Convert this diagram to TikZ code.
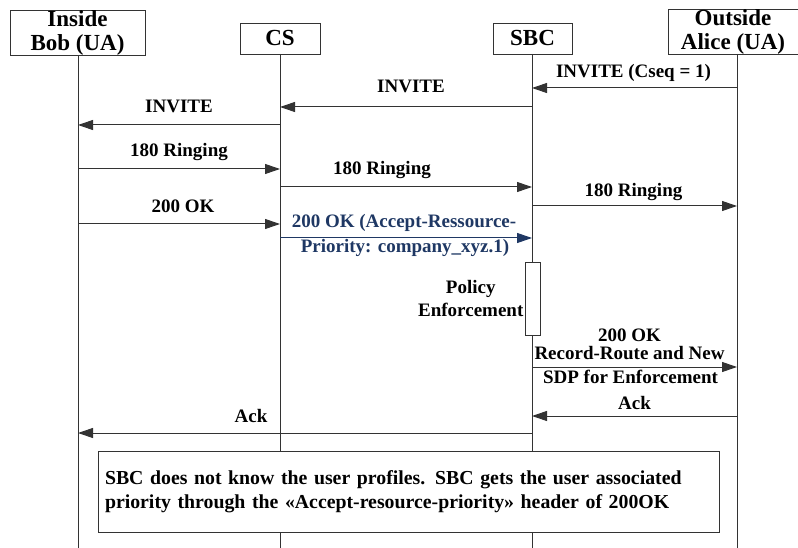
\documentclass[tikz,border=0pt]{standalone}
\usepackage{fontspec}
\setmainfont{Liberation Serif}
\usetikzlibrary{arrows.meta, positioning, calc}
\definecolor{okblue}{RGB}{31,56,100}
\definecolor{linegray}{RGB}{51,51,51}

\begin{document}
\begin{tikzpicture}[
		x=1pt, y=-1pt,
		actor/.style={draw=linegray, line width=0.9pt, inner sep=0pt, align=center, font=\fontsize{23}{24}\selectfont\bfseries},
		lifeline/.style={draw=linegray, line width=0.9pt},
		msg/.style={-{Triangle[length=15pt, width=10pt]}, draw=linegray, line width=1pt},
		lbl/.style={anchor=base, inner sep=0pt, font=\fontsize{19}{20}\selectfont\bfseries},
		multilbl/.style={inner sep=0pt, align=center, font=\fontsize{19}{18}\selectfont\bfseries},
		notebox/.style={draw=linegray, fill=white, line width=0.9pt, inner xsep=7pt, text width=607pt, align=left, minimum height=81pt, font=\fontsize{19.8}{24}\selectfont\bfseries}
		]
		\useasboundingbox (0,0) rectangle (798,548);
		
		% actors
		\node[actor, minimum width=135pt, minimum height=45pt] (bob) at (77.5,32.5) {Inside\\Bob (UA)};
		\node[actor, minimum width=80pt, minimum height=31pt] (cs) at (280,38.5) {CS};
		\node[actor, minimum width=79pt, minimum height=31pt] (sbc) at (532.5,38.5) {SBC};
		\node[actor, minimum width=130pt, minimum height=44pt] (alice) at (733,32) {Outside\\Alice (UA)};
		
		% lifelines
		\coordinate (bobl) at (78,55);
		\coordinate (csl) at (280,54);
		\coordinate (sbcl) at (532,54);
		\coordinate (alicel) at (737,54);
		\coordinate (bottom) at (0,548);
		\draw[lifeline] (bobl) -- (bobl |- bottom);
		\draw[lifeline] (csl) -- (csl |- bottom);
		\draw[lifeline] (sbcl) -- (sbcl |- bottom);
		\draw[lifeline] (alicel) -- (alicel |- bottom);
		
		% message rows
		\coordinate (r1) at (0,88);
		\coordinate (r2) at (0,107);
		\coordinate (r3) at (0,125);
		\coordinate (r4) at (0,169);
		\coordinate (r5) at (0,187);
		\coordinate (r6) at (0,206);
		\coordinate (r7) at (0,224);
		\coordinate (r8) at (0,238);
		\coordinate (r10) at (0,367);
		\coordinate (r11) at (0,416);
		\coordinate (r12) at (0,433);
		
		% INVITE
		\draw[msg] (alicel |- r1) -- node[lbl, yshift=10pt, xshift=-1pt] {INVITE (Cseq = 1)} (sbcl |- r1);
		\draw[msg] (sbcl |- r2) -- node[lbl, yshift=14pt, xshift=5pt] {INVITE} (csl |- r2);
		\draw[msg] (csl |- r3) -- node[lbl, yshift=12pt] {INVITE} (bobl |- r3);
		
		% 180 Ringing
		\draw[msg] (bobl |- r4) -- node[lbl, yshift=12pt] {180 Ringing} (csl |- r4);
		\draw[msg] (csl |- r5) -- node[lbl, yshift=12pt, xshift=-24pt] {180 Ringing} (sbcl |- r5);
		\draw[msg] (sbcl |- r6) -- node[lbl, yshift=9pt, xshift=-1pt] {180 Ringing} (alicel |- r6);
		
		% 200 OK
		\draw[msg] (bobl |- r7) -- node[lbl, yshift=11pt, xshift=4pt] {200 OK} (csl |- r7);
		\draw[msg, draw=okblue] (csl |- r8) -- node[lbl, text=okblue, yshift=10pt, xshift=-2pt] {200 OK (Accept-Ressource-}
			node[lbl, text=okblue, yshift=-14pt, xshift=-1pt] {Priority: company\_xyz.1)} (sbcl |- r8);
		
		% policy enforcement
		\node[draw=linegray, fill=white, line width=0.9pt, minimum width=15pt, minimum height=73pt, inner sep=0pt] (enf) at (532.5,298.5) {};
		\node[multilbl, font=\fontsize{19}{24}\selectfont\bfseries, left=1pt of enf] (enftext) {Policy\\Enforcement};
		
		\draw[msg] (sbcl |- r10) -- node[multilbl, anchor=south, yshift=7pt, xshift=-5pt] {200 OK\\Record-Route and New}
			node[lbl, yshift=-16pt, xshift=-4pt] {SDP for Enforcement} (alicel |- r10);
		
		% Ack
		\draw[msg] (alicel |- r11) -- node[lbl, yshift=7pt] {Ack} (sbcl |- r11);
		\draw[msg] (sbcl |- r12) -- node[lbl, yshift=11pt, xshift=-54pt] {Ack} (bobl |- r12);
		
		% note
		\node[notebox] (note) at (408.5,491.5) {SBC does not know the user profiles. SBC gets the user associated\\priority through the «Accept-resource-priority» header of 200OK};
		
	\end{tikzpicture}
\end{document}
